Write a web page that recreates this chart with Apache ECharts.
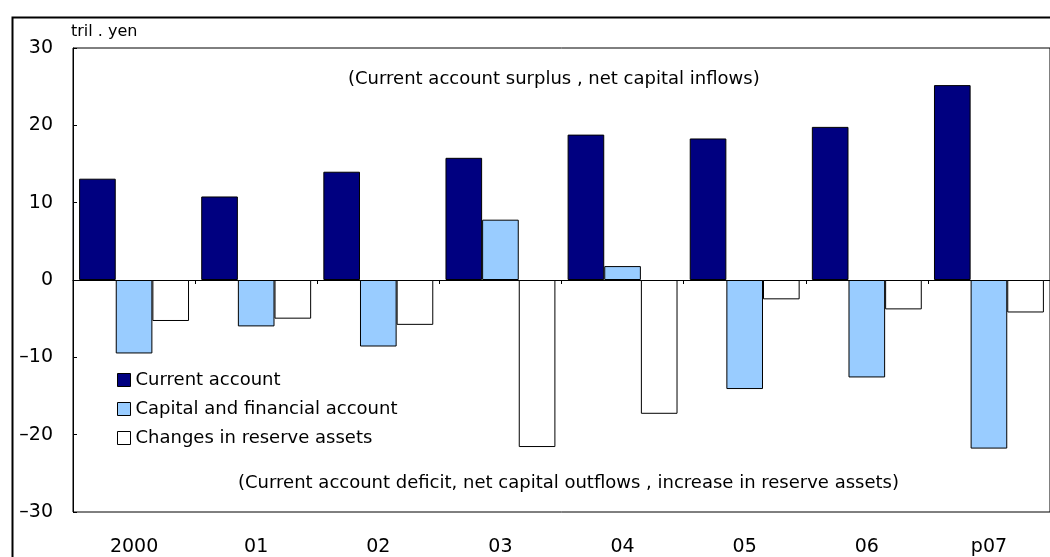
<!DOCTYPE html>
<html>
<head>
<meta charset="utf-8">
<script src="https://cdn.jsdelivr.net/npm/echarts@6/dist/echarts.min.js"></script>
<style>
  html, body { margin: 0; padding: 0; background: #fff; }
  #chart { width: 1050px; height: 557px; }
</style>
</head>
<body>
<div id="chart"></div>
<script>
// categories (years) and series values, tril. yen
const years = ['2000', '01', '02', '03', '04', '05', '06', 'p07'];
const currentAccount = [13.1, 10.8, 14.0, 15.8, 18.8, 18.3, 19.8, 25.2];
const capitalFinancial = [-9.5, -6.0, -8.6, 7.8, 1.8, -14.1, -12.6, -21.8];
const reserveChanges = [-5.3, -5.0, -5.8, -21.6, -17.3, -2.5, -3.8, -4.2];
const seriesNames = ['Current account', 'Capital and financial account', 'Changes in reserve assets'];
const seriesColors = ['#000080', '#99ccff', '#ffffff'];

const FONT = '"DejaVu Sans", sans-serif';

const chart = echarts.init(document.getElementById('chart'));

function barSeries(name, data, color) {
    return {
        name: name,
        type: 'bar',
        xAxisIndex: 0,
        data: data,
        barGap: '0%',
        barCategoryGap: '10%',
        itemStyle: { color: color, borderColor: '#000', borderWidth: 1 }
    };
}

chart.setOption({
    animation: false,
    grid: {
        left: 73, top: 48, width: 983, height: 466,
        show: true, borderColor: '#000', borderWidth: 1, backgroundColor: 'transparent'
    },
    legend: {
        orient: 'vertical',
        left: 112, top: 366,
        itemWidth: 13, itemHeight: 13, itemGap: 11,
        icon: 'rect',
        itemStyle: { borderColor: '#000', borderWidth: 1 },
        textStyle: { fontFamily: FONT, fontSize: 18, color: '#000', lineHeight: 18 },
        data: seriesNames
    },
    xAxis: [
        {
            type: 'category', data: years, position: 'bottom',
            axisLine: { show: false, onZero: false },
            axisTick: { show: false },
            axisLabel: { margin: 26, fontFamily: FONT, fontSize: 19, color: '#000' }
        },
        {
            // zero line with small upward ticks at category boundaries
            type: 'category', data: years,
            axisLine: { show: true, onZero: true, lineStyle: { color: '#000', width: 1 } },
            axisTick: { show: true, inside: true, length: 4, lineStyle: { color: '#000' } },
            axisLabel: { show: false }
        }
    ],
    yAxis: {
        type: 'value', min: -30, max: 30, interval: 10,
        axisLine: { show: true, lineStyle: { color: '#000', width: 1 } },
        axisTick: { show: true, inside: true, length: 4, lineStyle: { color: '#000' } },
        splitLine: { show: false },
        axisLabel: {
            margin: 20, fontFamily: FONT, fontSize: 19, color: '#000',
            formatter: v => (v < 0 ? '\u2013' + Math.abs(v) : String(v))
        }
    },
    graphic: [
        {
            type: 'rect', left: 10, top: 15, silent: true,
            shape: { width: 1200, height: 700 },
            style: { fill: 'none', stroke: '#000', lineWidth: 2 }
        },
        {
            type: 'text', left: 71, top: 24,
            style: { text: 'tril . yen', font: '16px ' + FONT, fill: '#000' }
        },
        {
            type: 'text', left: 348, top: 70,
            style: { text: '(Current account surplus , net capital inflows)', font: '18px ' + FONT, fill: '#000' }
        },
        {
            type: 'text', left: 238, top: 474,
            style: { text: '(Current account deficit, net capital outflows , increase in reserve assets)', font: '18px ' + FONT, fill: '#000' }
        }
    ],
    series: [
        barSeries(seriesNames[0], currentAccount, seriesColors[0]),
        barSeries(seriesNames[1], capitalFinancial, seriesColors[1]),
        barSeries(seriesNames[2], reserveChanges, seriesColors[2])
    ]
});
</script>
</body>
</html>
